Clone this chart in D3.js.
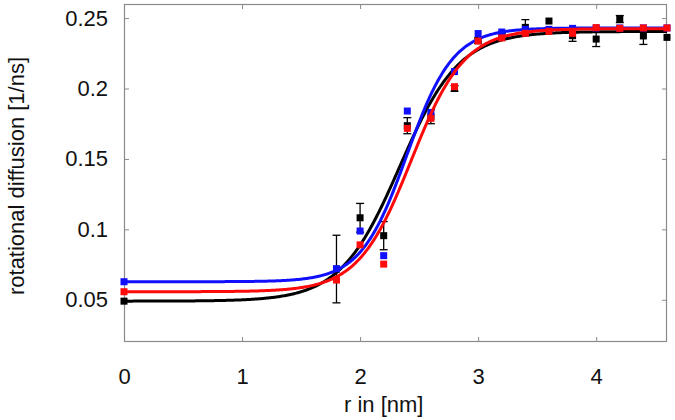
<!DOCTYPE html>
<html><head><meta charset="utf-8">
<script src="https://cdn.jsdelivr.net/npm/d3@7"></script>
<style>body{margin:0;background:#fff}svg{display:block}text{font-family:"Liberation Sans",Arial,sans-serif;fill:#111}</style>
</head><body><svg id="c" width="675" height="420"></svg>
<script>
// data
const xPos = [0, 1.8, 2.0, 2.2, 2.4, 2.6, 2.8, 3.0, 3.2, 3.4, 3.6, 3.8, 4.0, 4.2, 4.4, 4.6];
const blackY = [0.049, 0.0718, 0.1082, 0.0955, 0.1736, 0.1800, 0.2000, 0.2340, 0.2370, 0.2434, 0.2479, 0.2375, 0.2351, 0.2493, 0.2373, 0.2363];
const blackErr = [0.001, 0.024, 0.0102, 0.010, 0.0057, 0.005, 0.002, 0.002, 0.002, 0.0055, 0.001, 0.004, 0.0053, 0.0025, 0.006, 0.001];
const blueY = [0.0628, 0.0720, 0.0988, 0.0813, 0.1840, 0.1830, 0.2120, 0.2390, 0.2401, 0.2420, 0.2420, 0.2427, 0.2430, 0.2430, 0.2430, 0.2430];
const redY = [0.0557, 0.0640, 0.0890, 0.0753, 0.1717, 0.1788, 0.2013, 0.2337, 0.2359, 0.2392, 0.2406, 0.2392, 0.2432, 0.2427, 0.2430, 0.2430];
// sigmoid fit parameters: [low, high, center, width]
const blackFit = [0.049, 0.2405, 2.337, 0.252];
const blueFit = [0.0628, 0.243, 2.397, 0.196];
const redFit = [0.0557, 0.2425, 2.434, 0.2255];
const xTicks = [0, 1, 2, 3, 4];
const yTicks = [0.05, 0.1, 0.15, 0.2, 0.25];
const xLabel = "r in [nm]";
const yLabel = "rotational diffusion [1/ns]";

const svg = d3.select("#c");
const L = 124, R = 667, T = 4, B = 342;
const x = d3.scaleLinear().domain([0, 4.6]).range([L, R]);
const y = d3.scaleLinear().domain([0.02, 0.26]).range([B, T]);
const frame = "#8a8a8a";

// axes (inward ticks, mirrored)
const fmt = d => d === 0 ? "0" : String(+d.toFixed(2));
const gx = svg.append("g").attr("transform", `translate(0,${B})`)
  .call(d3.axisBottom(x).tickValues(xTicks).tickSize(-5).tickPadding(26).tickFormat(fmt));
const gy = svg.append("g").attr("transform", `translate(${L},0)`)
  .call(d3.axisLeft(y).tickValues(yTicks).tickSize(-5).tickPadding(16).tickFormat(fmt));
const gx2 = svg.append("g").attr("transform", `translate(0,${T})`)
  .call(d3.axisTop(x).tickValues(xTicks).tickSize(-5).tickFormat(""));
const gy2 = svg.append("g").attr("transform", `translate(${R},0)`)
  .call(d3.axisRight(y).tickValues(yTicks).tickSize(-5).tickFormat(""));
[gx, gy, gx2, gy2].forEach(g => {
  g.select(".domain").remove();
  g.selectAll("line").attr("stroke", frame).attr("stroke-width", 1);
  g.selectAll("text").style("font-size", "22px").attr("fill", "#111");
});
gx.selectAll("text").attr("dy", "0.71em");
svg.append("rect").attr("x", L + 0.5).attr("y", T + 0.5).attr("width", R - L - 1).attr("height", B - T - 1)
  .attr("fill", "none").attr("stroke", frame).attr("stroke-width", 1.2);

svg.append("text").attr("x", x(2.2)).attr("y", 412).attr("text-anchor", "middle").style("font-size", "22px").text(xLabel);
svg.append("text").attr("transform", `translate(24,176) rotate(-90)`).attr("text-anchor", "middle").style("font-size", "22px").text(yLabel);

const clip = svg.append("clipPath").attr("id", "clip").append("rect").attr("x", L).attr("y", T).attr("width", R - L).attr("height", B - T);
const plot = svg.append("g");

const sig = (p, v) => p[0] + (p[1] - p[0]) / (1 + Math.exp(-(v - p[2]) / p[3]));
const grid = d3.range(0, 4.6001, 0.01);
const line = d3.line().x(d => x(d[0])).y(d => y(d[1])).curve(d3.curveLinear);

const series = [
  {vals: blackY, err: blackErr, fit: blackFit, color: "#000000"},
  {vals: blueY, err: null, fit: blueFit, color: "#1010ff"},
  {vals: redY, err: null, fit: redFit, color: "#ff0a0a"}
];
const S = 7;
series.forEach(s => {
  const pts = xPos.map((v, i) => [v, s.vals[i], s.err ? s.err[i] : 0]);
  if (s.err) {
    const eb = plot.append("g").attr("stroke", s.color).attr("stroke-width", 1.3);
    pts.forEach(d => {
      if (d[2] < 0.0015) return;
      eb.append("line").attr("x1", x(d[0])).attr("x2", x(d[0])).attr("y1", y(d[1] - d[2])).attr("y2", y(d[1] + d[2]));
      [d[1] - d[2], d[1] + d[2]].forEach(yy => eb.append("line").attr("x1", x(d[0]) - 4).attr("x2", x(d[0]) + 4).attr("y1", y(yy)).attr("y2", y(yy)));
    });
  }
  plot.append("g").selectAll("rect").data(pts).join("rect")
    .attr("x", d => x(d[0]) - S / 2).attr("y", d => y(d[1]) - S / 2).attr("width", S).attr("height", S)
    .attr("fill", s.color);
  plot.append("path").datum(grid.map(v => [v, sig(s.fit, v)])).attr("d", line)
    .attr("fill", "none").attr("stroke", s.color).attr("stroke-width", 3).attr("clip-path", "url(#clip)");
});
</script></body></html>
